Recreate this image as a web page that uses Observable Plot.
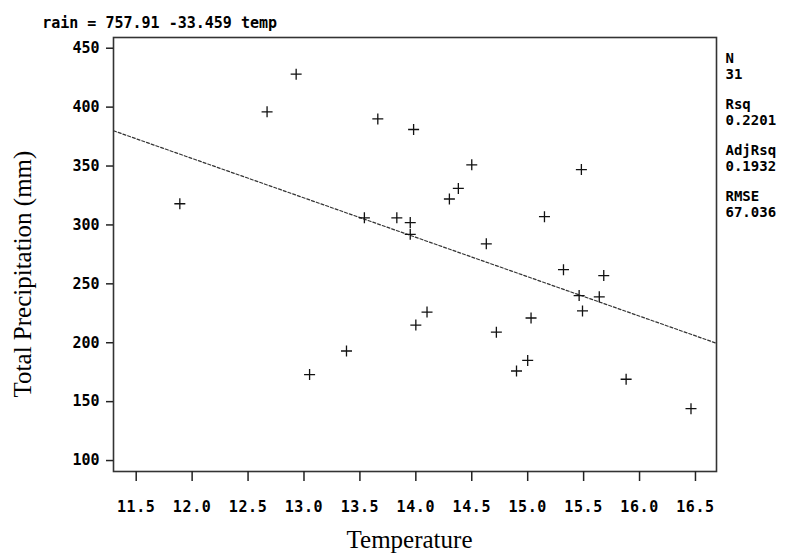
<!DOCTYPE html>
<html>
<head>
<meta charset="utf-8">
<script src="https://cdn.jsdelivr.net/npm/d3@7"></script>
<script src="https://cdn.jsdelivr.net/npm/@observablehq/plot@0.6"></script>
<style>
  html, body { margin: 0; padding: 0; background: #fff; }
  #chart svg { display: block; }
  g[aria-label="x-axis tick label"] text { letter-spacing: 0.6px; }
  g[aria-label="title"] text { letter-spacing: 1.35px; }
  g[aria-label="stats"] text { letter-spacing: 1.5px; }
</style>
</head>
<body>
<div id="chart"></div>
<script>
// Temperature (°C) of each observation
const temperature = [
  11.89, 12.67, 12.93, 13.05, 13.38, 13.54, 13.66, 13.83, 13.95, 13.95,
  13.98, 14.00, 14.10, 14.30, 14.38, 14.50, 14.63, 14.72, 14.90, 15.00,
  15.03, 15.15, 15.32, 15.46, 15.48, 15.49, 15.64, 15.68, 15.88, 16.46
];
// Total precipitation (mm) of each observation
const rain = [
  318, 396, 428, 173, 193, 306, 390, 306, 302, 292,
  381, 215, 226, 322, 331, 351, 284, 209, 176, 185,
  221, 307, 262, 240, 347, 227, 239, 257, 169, 144
];
// Fitted regression: rain = intercept + slope * temp
const intercept = 757.91;
const slope = -33.459;
const titleText = ["rain = 757.91 -33.459 temp"];
const statsLabels = ["N", "Rsq", "AdjRsq", "RMSE"];
const statsValues = ["31", "0.2201", "0.1932", "67.036"];
const xTicks = [11.5, 12.0, 12.5, 13.0, 13.5, 14.0, 14.5, 15.0, 15.5, 16.0, 16.5];
const yTicks = [100, 150, 200, 250, 300, 350, 400, 450];
const xLabel = ["Temperature"];
const yLabel = ["Total Precipitation (mm)"];

const xDomain = [11.297, 16.688];
const yDomain = [90.7, 459.1];

const points = temperature.map((t, i) => ({t, r: rain[i]}));
const fit = xDomain.map(t => ({t, r: intercept + slope * t}));

const plusSymbol = {
  draw(context, size) {
    const r = Math.sqrt(size / Math.PI);
    context.moveTo(-r, 0); context.lineTo(r, 0);
    context.moveTo(0, -r); context.lineTo(0, r);
  }
};

const mono = "DejaVu Sans Mono";
const serif = "Liberation Serif, Times New Roman, serif";

const statMarks = statsLabels.flatMap((lab, i) => [
  Plot.text([lab], {frameAnchor: "top-right", textAnchor: "start", lineAnchor: "middle", dx: 9, dy: 21 + 46 * i,
    fontFamily: mono, fontWeight: "bold", fontSize: 14, fill: "#000", ariaLabel: "stats"}),
  Plot.text([statsValues[i]], {frameAnchor: "top-right", textAnchor: "start", lineAnchor: "middle", dx: 9, dy: 37 + 46 * i,
    fontFamily: mono, fontWeight: "bold", fontSize: 14, fill: "#000", ariaLabel: "stats"})
]);

const chart = Plot.plot({
  width: 790,
  height: 555,
  marginLeft: 113,
  marginRight: 74,
  marginTop: 37,
  marginBottom: 84,
  style: {background: "#fff", color: "#000", fontFamily: mono},
  x: {domain: xDomain, label: null},
  y: {domain: yDomain, label: null},
  marks: [
    Plot.line(fit, {x: "t", y: "r", stroke: "#333", strokeWidth: 1.2, strokeDasharray: "3,2", clip: true}),
    Plot.dot(points, {x: "t", y: "r", symbol: plusSymbol, r: 5.5, stroke: "#111", strokeWidth: 1.3, fill: "none"}),
    Plot.frame({stroke: "#333", strokeWidth: 1.6}),
    Plot.axisX({ticks: xTicks, tickFormat: d3.format(".1f"), tickSize: 10, tickPadding: 20,
      fontSize: 15, fontWeight: "bold", fontFamily: mono, stroke: "#222", strokeWidth: 1.5, label: null}),
    Plot.axisY({ticks: yTicks, tickFormat: d3.format("d"), tickSize: 7, tickPadding: 7,
      fontSize: 15, fontWeight: "bold", fontFamily: mono, stroke: "#222", strokeWidth: 1.5, label: null}),
    Plot.text(titleText, {frameAnchor: "top-left", textAnchor: "start", lineAnchor: "middle", dx: -71.3, dy: -14.5,
      fontFamily: mono, fontWeight: "bold", fontSize: 15, fill: "#000", ariaLabel: "title"}),
    ...statMarks,
    Plot.text(xLabel, {frameAnchor: "bottom", textAnchor: "middle", lineAnchor: "middle", dx: -5.5, dy: 68.7,
      fontFamily: serif, fontSize: 25, fill: "#000"}),
    Plot.text(yLabel, {frameAnchor: "left", textAnchor: "middle", lineAnchor: "middle", rotate: -90, dx: -91, dy: 19.5,
      fontFamily: serif, fontSize: 25, fill: "#000"})
  ]
});
document.getElementById("chart").appendChild(chart);
</script>
</body>
</html>
